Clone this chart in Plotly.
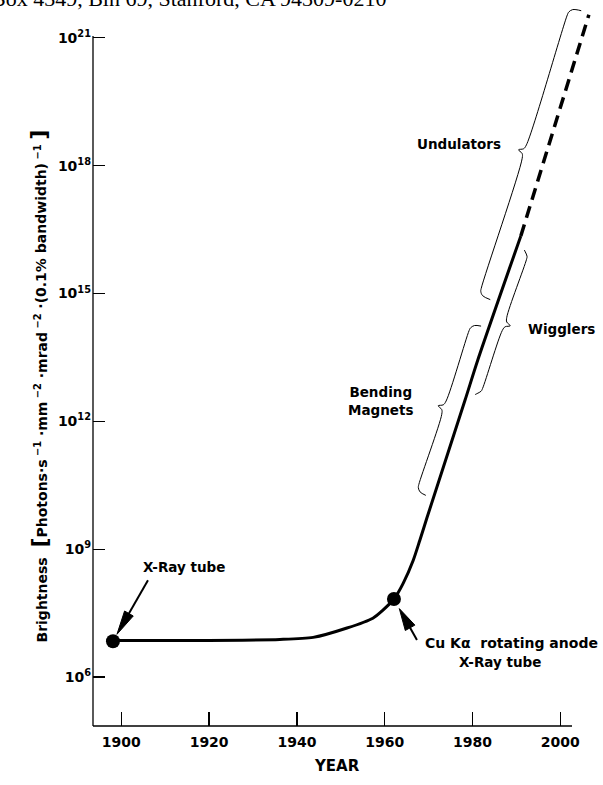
import numpy as np
import plotly.graph_objects as go

# ---------------- data ----------------
years = [1898.1, 1915.0, 1936.1, 1943.7, 1951.4, 1957.3, 1959.6, 1962.1,
         1964.2, 1966.5, 1968.0, 1969.6, 1978.3, 1981.2, 1991.0]
brightness = [7.2e6, 7.2e6, 7.6e6, 8.5e6, 1.41e7, 2.40e7, 3.72e7, 6.76e7,
              1.58e8, 5.50e8, 1.62e9, 5.37e9, 3.16e12, 2.75e13, 2.24e16]
proj_years = [1991.0, 2006.5]
proj_brightness = [2.24e16, 3.47e21]

source_years = [1898.1, 1962.1]
source_brightness = [6.9e6, 6.76e7]

brace_names = ["Bending<br>Magnets", "Wigglers", "Undulators"]
brace_low = [1.6e10, 4.9e12, 6.3e14]
brace_high = [1.5e14, 1.2e16, 3.8e21]

x_tickvals = [1900, 1920, 1940, 1960, 1980, 2000]
x_ticktext = ["1900", "1920", "1940", "1960", "1980", "2000"]
y_tickvals = [1e6, 1e9, 1e12, 1e15, 1e18, 1e21]
y_ticktext = ["10<sup>6</sup>", "10<sup>9</sup>", "10<sup>12</sup>",
              "10<sup>15</sup>", "10<sup>18</sup>", "10<sup>21</sup>"]

# ---------------- layout geometry ----------------
W, H = 603, 785
ML, MR, MT, MB = 93, 5, 8, 59
PW, PH = W - ML - MR, H - MT - MB
XR = [1893.55, 2008.58]
YR = [4.85, 21.70]          # log10 range

FONT = "DejaVu Sans"


def to_px(year):
    return ML + (np.asarray(year, float) - XR[0]) / (XR[1] - XR[0]) * PW


def to_py(b):
    return MT + (YR[1] - np.log10(np.asarray(b, float))) / (YR[1] - YR[0]) * PH


def from_px(px):
    return XR[0] + (np.asarray(px, float) - ML) / PW * (XR[1] - XR[0])


def from_py_log(py):
    return YR[1] - (np.asarray(py, float) - MT) / PH * (YR[1] - YR[0])


# curve in pixel space (for brace placement)
all_x = to_px(years[7:] + proj_years[1:])
all_y = to_py(brightness[7:] + proj_brightness[1:])


def curve_point(b):
    py = float(to_py(b))
    px = float(np.interp(py, all_y[::-1], all_x[::-1]))
    return np.array([px, py])


def brace(b_lo, b_hi, side, d, h0=8.0, tip=6.0):
    A, B = curve_point(b_lo), curve_point(b_hi)
    L = np.linalg.norm(B - A)
    u = (B - A) / L
    n = side * np.array([-u[1], u[0]])
    st = [(0, h0), (1.5, d - 3.5), (5, d - 0.5), (8, d),
          (L / 2 - 7, d), (L / 2 - 2.5, d + 1.5), (L / 2, d + tip),
          (L / 2 + 2.5, d + 1.5), (L / 2 + 7, d),
          (L - 8, d), (L - 5, d - 0.5), (L - 1.5, d - 3.5), (L, h0)]
    pts = np.array([A + s * u + t * n for s, t in st])
    return from_px(pts[:, 0]), 10 ** from_py_log(pts[:, 1])


fig = go.Figure()

fig.add_trace(go.Scatter(x=years, y=brightness, mode="lines",
                         line=dict(color="black", width=3, shape="spline", smoothing=0.7),
                         hoverinfo="skip"))
fig.add_trace(go.Scatter(x=proj_years, y=proj_brightness, mode="lines",
                         line=dict(color="black", width=3.5, dash="12px,7px"),
                         hoverinfo="skip"))

brace_side = [-1, 1, -1]
brace_off = [18, 13, 20]
for lo, hi, s, d in zip(brace_low, brace_high, brace_side, brace_off):
    bx, by = brace(lo, hi, s, d)
    fig.add_trace(go.Scatter(x=bx, y=by, mode="lines",
                             line=dict(color="black", width=1, shape="spline", smoothing=1),
                             hoverinfo="skip"))

fig.add_trace(go.Scatter(x=source_years, y=source_brightness, mode="markers",
                         marker=dict(color="black", size=14), hoverinfo="skip"))


def px2data(px, py):
    return float(from_px(px)), float(from_py_log(py))


def px2paper(px, py):
    return (px - ML) / PW, (MT + PH - py) / PH


annos = []
shapes = []
lab_font = dict(family=FONT, size=13.5, color="black", weight="bold")

# brace labels
for name, (px, py) in zip(brace_names, [(380, 401), (561, 329), (459, 144)]):
    x, y = px2data(px, py)
    annos.append(dict(x=x, y=y, xref="x", yref="y", text=name, showarrow=False,
                      font=lab_font, align="center"))

# source labels
x, y = px2data(184, 567)
annos.append(dict(x=x, y=y, xref="x", yref="y", text="X-Ray tube", showarrow=False, font=lab_font))
x, y = px2data(423, 643)
annos.append(dict(x=x, y=y, xref="x", yref="y", text="Cu Kα&nbsp;&nbsp;rotating anode",
                  showarrow=False, font=dict(lab_font, size=14), xanchor="left"))
x, y = px2data(500, 662)
annos.append(dict(x=x, y=y, xref="x", yref="y", text="X-Ray tube", showarrow=False, font=lab_font))


# arrows (shaft + long narrow head), built in pixel space from the source dots
def arrow(src_i, tail_dx, tail_dy, standoff, head_len=22, head_half=5):
    cx = float(to_px(source_years[src_i]))
    cy = float(to_py(source_brightness[src_i]))
    tail = np.array([cx + tail_dx, cy + tail_dy])
    c = np.array([cx, cy])
    dvec = (c - tail) / np.linalg.norm(c - tail)
    tip = c - dvec * standoff
    base = tip - dvec * head_len
    perp = np.array([-dvec[1], dvec[0]])
    p1, p2 = base + perp * head_half, base - perp * head_half
    t0, t1 = px2paper(*tail), px2paper(*(base + dvec * 2))
    shapes.append(dict(type="line", xref="paper", yref="paper", x0=t0[0], y0=t0[1],
                       x1=t1[0], y1=t1[1], line=dict(color="black", width=2)))
    q = [px2paper(*tip), px2paper(*p1), px2paper(*p2)]
    path = "M{:.5f},{:.5f} L{:.5f},{:.5f} L{:.5f},{:.5f} Z".format(
        q[0][0], q[0][1], q[1][0], q[1][1], q[2][0], q[2][1])
    shapes.append(dict(type="path", xref="paper", yref="paper", path=path,
                       fillcolor="black", line=dict(color="black", width=1)))


arrow(0, 35, -61, 8, head_len=24, head_half=5)
arrow(1, 23, 41, 11, head_len=22, head_half=5.5)

# axis titles
big = "<span style='font-size:22px'>%s</span>"
ytitle = ("Brightness&nbsp;&nbsp;" + big % "[" + "Photons·s<sup>&nbsp;−1</sup>&nbsp;·mm<sup>&nbsp;−2</sup>"
          "&nbsp;·mrad<sup>&nbsp;−2</sup>&nbsp;·(0.1% bandwidth)<sup>&nbsp;−1</sup>&nbsp;" + big % "]")
xp, yp = px2paper(24, 386)
annos.append(dict(x=xp, y=yp, xref="paper", yref="paper", text=ytitle, textangle=-90,
                  showarrow=False, font=dict(family=FONT, size=14, color="black", weight="bold")))
xp, yp = px2paper(337, 777)
annos.append(dict(x=xp, y=yp, xref="paper", yref="paper", text="YEAR", showarrow=False,
                  font=dict(family=FONT, size=15, color="black", weight="bold")))

# header line of the scanned page
xp, yp = px2paper(388, -1)
annos.append(dict(x=xp, y=yp, xref="paper", yref="paper", xanchor="right", yanchor="middle",
                  text="Box 4349, Bin 69, Stanford, CA 94309-0210", showarrow=False,
                  font=dict(family="Liberation Serif", size=22, color="black")))

# axis lines
shapes += [
    dict(type="line", xref="x", yref="paper", x0=XR[0], x1=float(from_px(572)), y0=0, y1=0,
         line=dict(color="black", width=1.3)),
    dict(type="line", xref="paper", yref="paper", x0=0, x1=0, y0=0,
         y1=px2paper(0, 36)[1], line=dict(color="black", width=1.3)),
]

fig.update_layout(
    width=W, height=H, margin=dict(l=ML, r=MR, t=MT, b=MB, pad=0),
    paper_bgcolor="white", plot_bgcolor="white", showlegend=False,
    font=dict(family=FONT, size=14, color="black"),
    annotations=annos, shapes=shapes,
    xaxis=dict(range=XR, showgrid=False, zeroline=False, showline=False,
               tickmode="array", tickvals=x_tickvals, ticktext=x_ticktext,
               ticks="inside", ticklen=14, tickwidth=1.3, tickcolor="black",
               ticklabelstandoff=6,
               tickfont=dict(family=FONT, size=14, color="black", weight="bold")),
    yaxis=dict(type="log", range=YR, showgrid=False, zeroline=False, showline=False,
               tickmode="array", tickvals=y_tickvals, ticktext=y_ticktext,
               ticks="inside", ticklen=12, tickwidth=1.3, tickcolor="black",
               ticklabelstandoff=1,
               tickfont=dict(family=FONT, size=14, color="black", weight="bold")),
)

fig.write_html("out.html", config={"displayModeBar": False, "staticPlot": True},
               post_script="document.body.style.margin='0';document.body.style.padding='0';"
                           "document.body.style.overflow='hidden';")
